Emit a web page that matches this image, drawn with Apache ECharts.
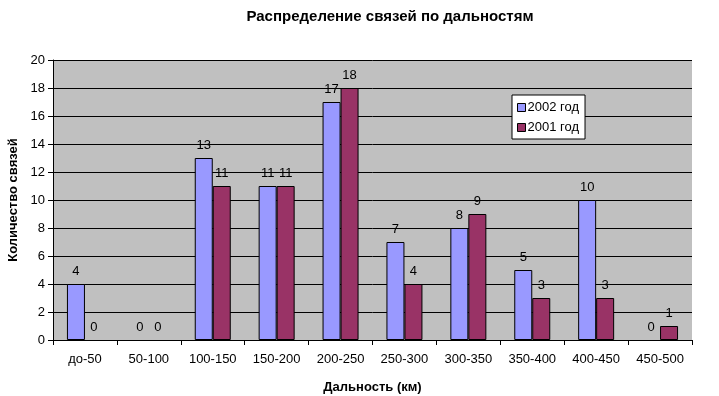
<!DOCTYPE html>
<html><head><meta charset="utf-8">
<script src="https://cdn.jsdelivr.net/npm/echarts@6/dist/echarts.min.js"></script>
<style>html,body{margin:0;padding:0;background:#fff}#c{width:719px;height:396px}</style>
</head><body><div id="c"></div>
<script>
const categories = ['до-50','50-100','100-150','150-200','200-250','250-300','300-350','350-400','400-450','450-500'];
const values2002 = [4,0,13,11,17,7,8,5,10,0];
const values2001 = [0,0,11,11,18,4,9,3,3,1];
const yTicks = {min:0, max:20, interval:2};
const font = 'Arial, "Liberation Sans", sans-serif';
const chart = echarts.init(document.getElementById('c'));
const lbl = {show:true, position:'top', distance:6, color:'#000', fontFamily:font, fontSize:13};
const toData = arr => arr.map(v => v === 0 ? {value:v, itemStyle:{borderWidth:0}} : v);
chart.setOption({
  animation:false,
  backgroundColor:'#fff',
  title:{text:'Распределение связей по дальностям', left:385, textAlign:'center', top:4,
    textStyle:{fontFamily:font, fontSize:15, fontWeight:'bold', color:'#000'}},
  grid:{left:53, right:27, top:60, bottom:56, show:true, backgroundColor:'#C0C0C0', borderColor:'#808080', borderWidth:0,
    containLabel:false, outerBoundsMode:'none'},
  legend:{orient:'vertical', left:512, top:95, width:70, height:42, backgroundColor:'#fff', borderColor:'#000', borderWidth:1,
    padding:[6,6,5,5], itemGap:7, itemWidth:8, itemHeight:8, icon:'rect',
    textStyle:{fontFamily:font, fontSize:13, color:'#000', padding:[0,0,0,-3]},
    itemStyle:{borderColor:'#000', borderWidth:1}},
  xAxis:{type:'category', data:categories, name:'Дальность (км)', nameLocation:'middle', nameGap:41,
    nameTextStyle:{fontFamily:font, fontSize:13, fontWeight:'bold', color:'#000'},
    axisLine:{lineStyle:{color:'#000'}}, axisTick:{show:true, alignWithLabel:false, length:5, lineStyle:{color:'#000'}},
    axisLabel:{fontFamily:font, fontSize:13, color:'#000', margin:13}},
  yAxis:{type:'value', min:yTicks.min, max:yTicks.max, interval:yTicks.interval, name:'Количество связей', nameLocation:'middle', nameGap:33,
    nameTextStyle:{fontFamily:font, fontSize:13, fontWeight:'bold', color:'#000'},
    axisLine:{show:true, lineStyle:{color:'#000'}}, axisTick:{show:true, length:5, lineStyle:{color:'#000'}},
    axisLabel:{fontFamily:font, fontSize:13, color:'#000', margin:8},
    splitLine:{lineStyle:{color:'#000', width:1}}},
  series:[
    {name:'2002 год', type:'bar', data:toData(values2002), barWidth:18, barGap:'0%',
      itemStyle:{color:'#9999FF', borderColor:'#000', borderWidth:1}, label:lbl},
    {name:'2001 год', type:'bar', data:toData(values2001), barWidth:18,
      itemStyle:{color:'#993366', borderColor:'#000', borderWidth:1}, label:lbl}
  ]
});
</script></body></html>
